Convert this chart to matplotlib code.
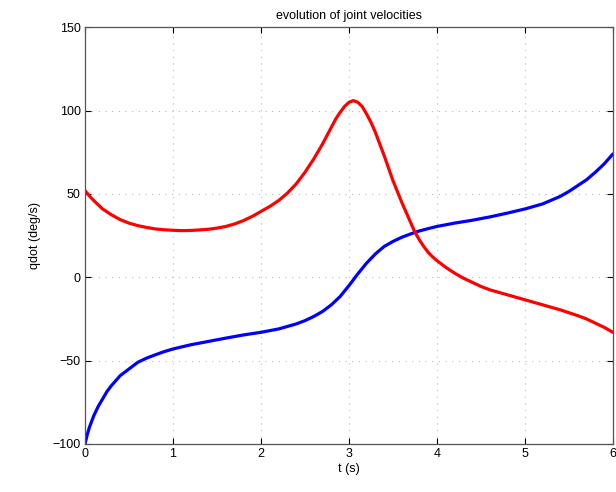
import numpy as np
import matplotlib.pyplot as plt

plt.rcParams['font.family'] = ['Liberation Sans', 'DejaVu Sans']

# joint 1 (red)
t1 = [0, 0.05, 0.1, 0.2, 0.3, 0.4, 0.5, 0.6, 0.7, 0.8, 0.9, 1.0, 1.1, 1.2, 1.3, 1.4,
      1.5, 1.6, 1.7, 1.8, 1.9, 2.0, 2.1, 2.2, 2.3, 2.4, 2.5, 2.6, 2.65, 2.7, 2.75,
      2.8, 2.85, 2.9, 2.95, 3.0, 3.05, 3.1, 3.15, 3.2, 3.25, 3.3, 3.35, 3.4, 3.45,
      3.5, 3.55, 3.6, 3.65, 3.7, 3.75, 3.8, 3.85, 3.9, 3.95, 4.0, 4.1,
      4.2, 4.3, 4.4, 4.5, 4.6, 4.7, 4.8, 4.9, 5.0, 5.2, 5.4, 5.6, 5.7, 5.8, 5.9, 6.0]
qd1 = [52, 48.8, 46, 41, 37.5, 34.6, 32.5, 31, 29.9, 29, 28.5, 28.2, 28, 28.1, 28.4, 28.8,
       29.5, 30.5, 32, 34, 36.5, 39.5, 42.5, 46, 50.5, 56, 63, 71, 75.5, 80, 85,
       90, 95, 99, 102.5, 105, 106, 105, 102.5, 98, 93, 87, 80, 73, 65.5,
       58, 51.5, 45, 39, 33, 27, 22.5, 18.5, 15, 12.3, 10, 6,
       2.5, -0.5, -3, -5.5, -7.5, -9, -10.5, -12, -13.5, -16.5, -19.5, -23, -25, -27.5, -30, -33]

# joint 2 (blue)
t2 = [0, 0.025, 0.05, 0.1, 0.15, 0.2, 0.25, 0.3, 0.4, 0.5, 0.6, 0.7, 0.8, 0.9, 1.0,
      1.2, 1.4, 1.6, 1.8, 2.0, 2.2, 2.4, 2.5, 2.6, 2.7, 2.8, 2.9, 3.0, 3.1, 3.2,
      3.3, 3.4, 3.5, 3.6, 3.7, 3.8, 3.9, 4.0, 4.2, 4.4, 4.6, 4.8, 5.0, 5.2, 5.4,
      5.5, 5.6, 5.7, 5.8, 5.9, 6.0]
qd2 = [-100, -94.5, -90, -83, -77.5, -73, -68.5, -65, -59, -55, -51, -48.5, -46.5, -44.6, -43,
       -40.5, -38.5, -36.5, -34.6, -33, -31, -28, -26, -23.5, -20.5, -16.5, -11.5, -5, 2, 8.5,
       14, 18.5, 21.5, 24, 26, 27.8, 29.2, 30.5, 32.5, 34.2, 36.2, 38.5, 41, 44, 48.5,
       51.5, 55, 58.5, 63, 68, 74]

xticks = [0, 1, 2, 3, 4, 5, 6]
yticks = [-100, -50, 0, 50, 100, 150]

fig = plt.figure(figsize=(6.16, 4.92), dpi=100)
ax = fig.add_axes([0.138, 0.0976, 0.857, 0.847])

ax.plot(t2, qd2, color='#0000ff', lw=2.3, solid_capstyle='round', solid_joinstyle='round')
ax.plot(t1, qd1, color='#ff0000', lw=2.3, solid_capstyle='round', solid_joinstyle='round')

ax.set_xlim(0, 6)
ax.set_ylim(-100, 150)
ax.set_xticks(xticks)
ax.set_yticks(yticks)
ax.grid(True, linestyle=(0, (1, 5)), color='#bbbbbb', lw=0.8)
ax.tick_params(direction='in', top=True, right=True, labelsize=9, length=4, pad=3)
for s in ax.spines.values():
    s.set_color('#555555')
    s.set_linewidth(0.9)

ax.set_title('evolution of joint velocities', fontsize=9, pad=6)
ax.set_xlabel('t (s)', fontsize=9, labelpad=2)
ax.set_ylabel('qdot (deg/s)', fontsize=9, labelpad=8)

fig.savefig('out.png', dpi=100)
